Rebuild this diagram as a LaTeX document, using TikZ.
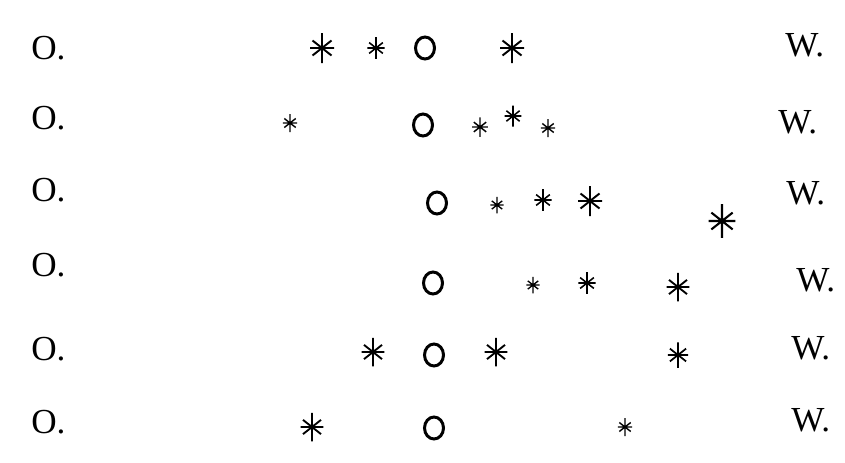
\documentclass[tikz,border=0pt]{standalone}
\usepackage{fontspec}
\setmainfont{Liberation Serif}
\begin{document}
\begin{tikzpicture}[x=0.02cm, y=-0.02cm,
    side/.style={anchor=base west, inner sep=0pt, font=\fontsize{20pt}{24pt}\selectfont},
    planet/.style={line width=1.7pt},
    pics/moon/.style={code={
        \draw[line width=0.35pt+0.75pt*#1] (0,-15*#1) -- (0,15*#1)
            (-12*#1,0) -- (12*#1,0)
            (-9.5*#1,-7.5*#1) -- (9.5*#1,7.5*#1)
            (-9.5*#1,7.5*#1) -- (9.5*#1,-7.5*#1);
        \fill (0,0) circle (2.4*#1);
    }}]
    \useasboundingbox (0,0) rectangle (845,463);

    % east side
    \node[side] (o1) at (31,59) {O.};
    \node[side] (o2) at (31,129) {O.};
    \node[side] (o3) at (31,201) {O.};
    \node[side] (o4) at (31,276) {O.};
    \node[side] (o5) at (31,360) {O.};
    \node[side] (o6) at (31,433) {O.};

    % west side
    \node[side] (w1) at (785,56) {W.};
    \node[side] (w2) at (778,133) {W.};
    \node[side] (w3) at (786,204) {W.};
    \node[side] (w4) at (796,291) {W.};
    \node[side] (w5) at (791,359) {W.};
    \node[side] (w6) at (791,431) {W.};

    % first night
    \pic (m11) at (322,48) {moon=1};
    \pic (m12) at (376,48) {moon=0.72};
    \draw[planet] (425,48) ellipse (9.5 and 11);
    \pic (m13) at (512,48) {moon=1};

    % second night
    \pic (m21) at (290,123) {moon=0.6};
    \draw[planet] (423,125) ellipse (9.5 and 11);
    \pic (m22) at (480,127) {moon=0.65};
    \pic (m23) at (513,116) {moon=0.7};
    \pic (m24) at (548,128) {moon=0.6};

    % third night
    \draw[planet] (437,203) ellipse (9.5 and 11);
    \pic (m31) at (497,205) {moon=0.55};
    \pic (m32) at (543,200) {moon=0.72};
    \pic (m33) at (590,201) {moon=1};
    \pic (m34) at (722,221) {moon=1.12};

    % fourth night
    \draw[planet] (433,283) ellipse (9.5 and 11);
    \pic (m41) at (533,285) {moon=0.55};
    \pic (m42) at (587,283) {moon=0.72};
    \pic (m43) at (678,287) {moon=0.95};

    % fifth night
    \pic (m51) at (373,352) {moon=0.95};
    \draw[planet] (434,355) ellipse (9.5 and 11);
    \pic (m52) at (496,352) {moon=0.95};
    \pic (m53) at (678,355) {moon=0.85};

    % sixth night
    \pic (m61) at (312,427) {moon=0.95};
    \draw[planet] (434,428) ellipse (9.5 and 11);
    \pic (m62) at (625,427) {moon=0.6};
\end{tikzpicture}
\end{document}
